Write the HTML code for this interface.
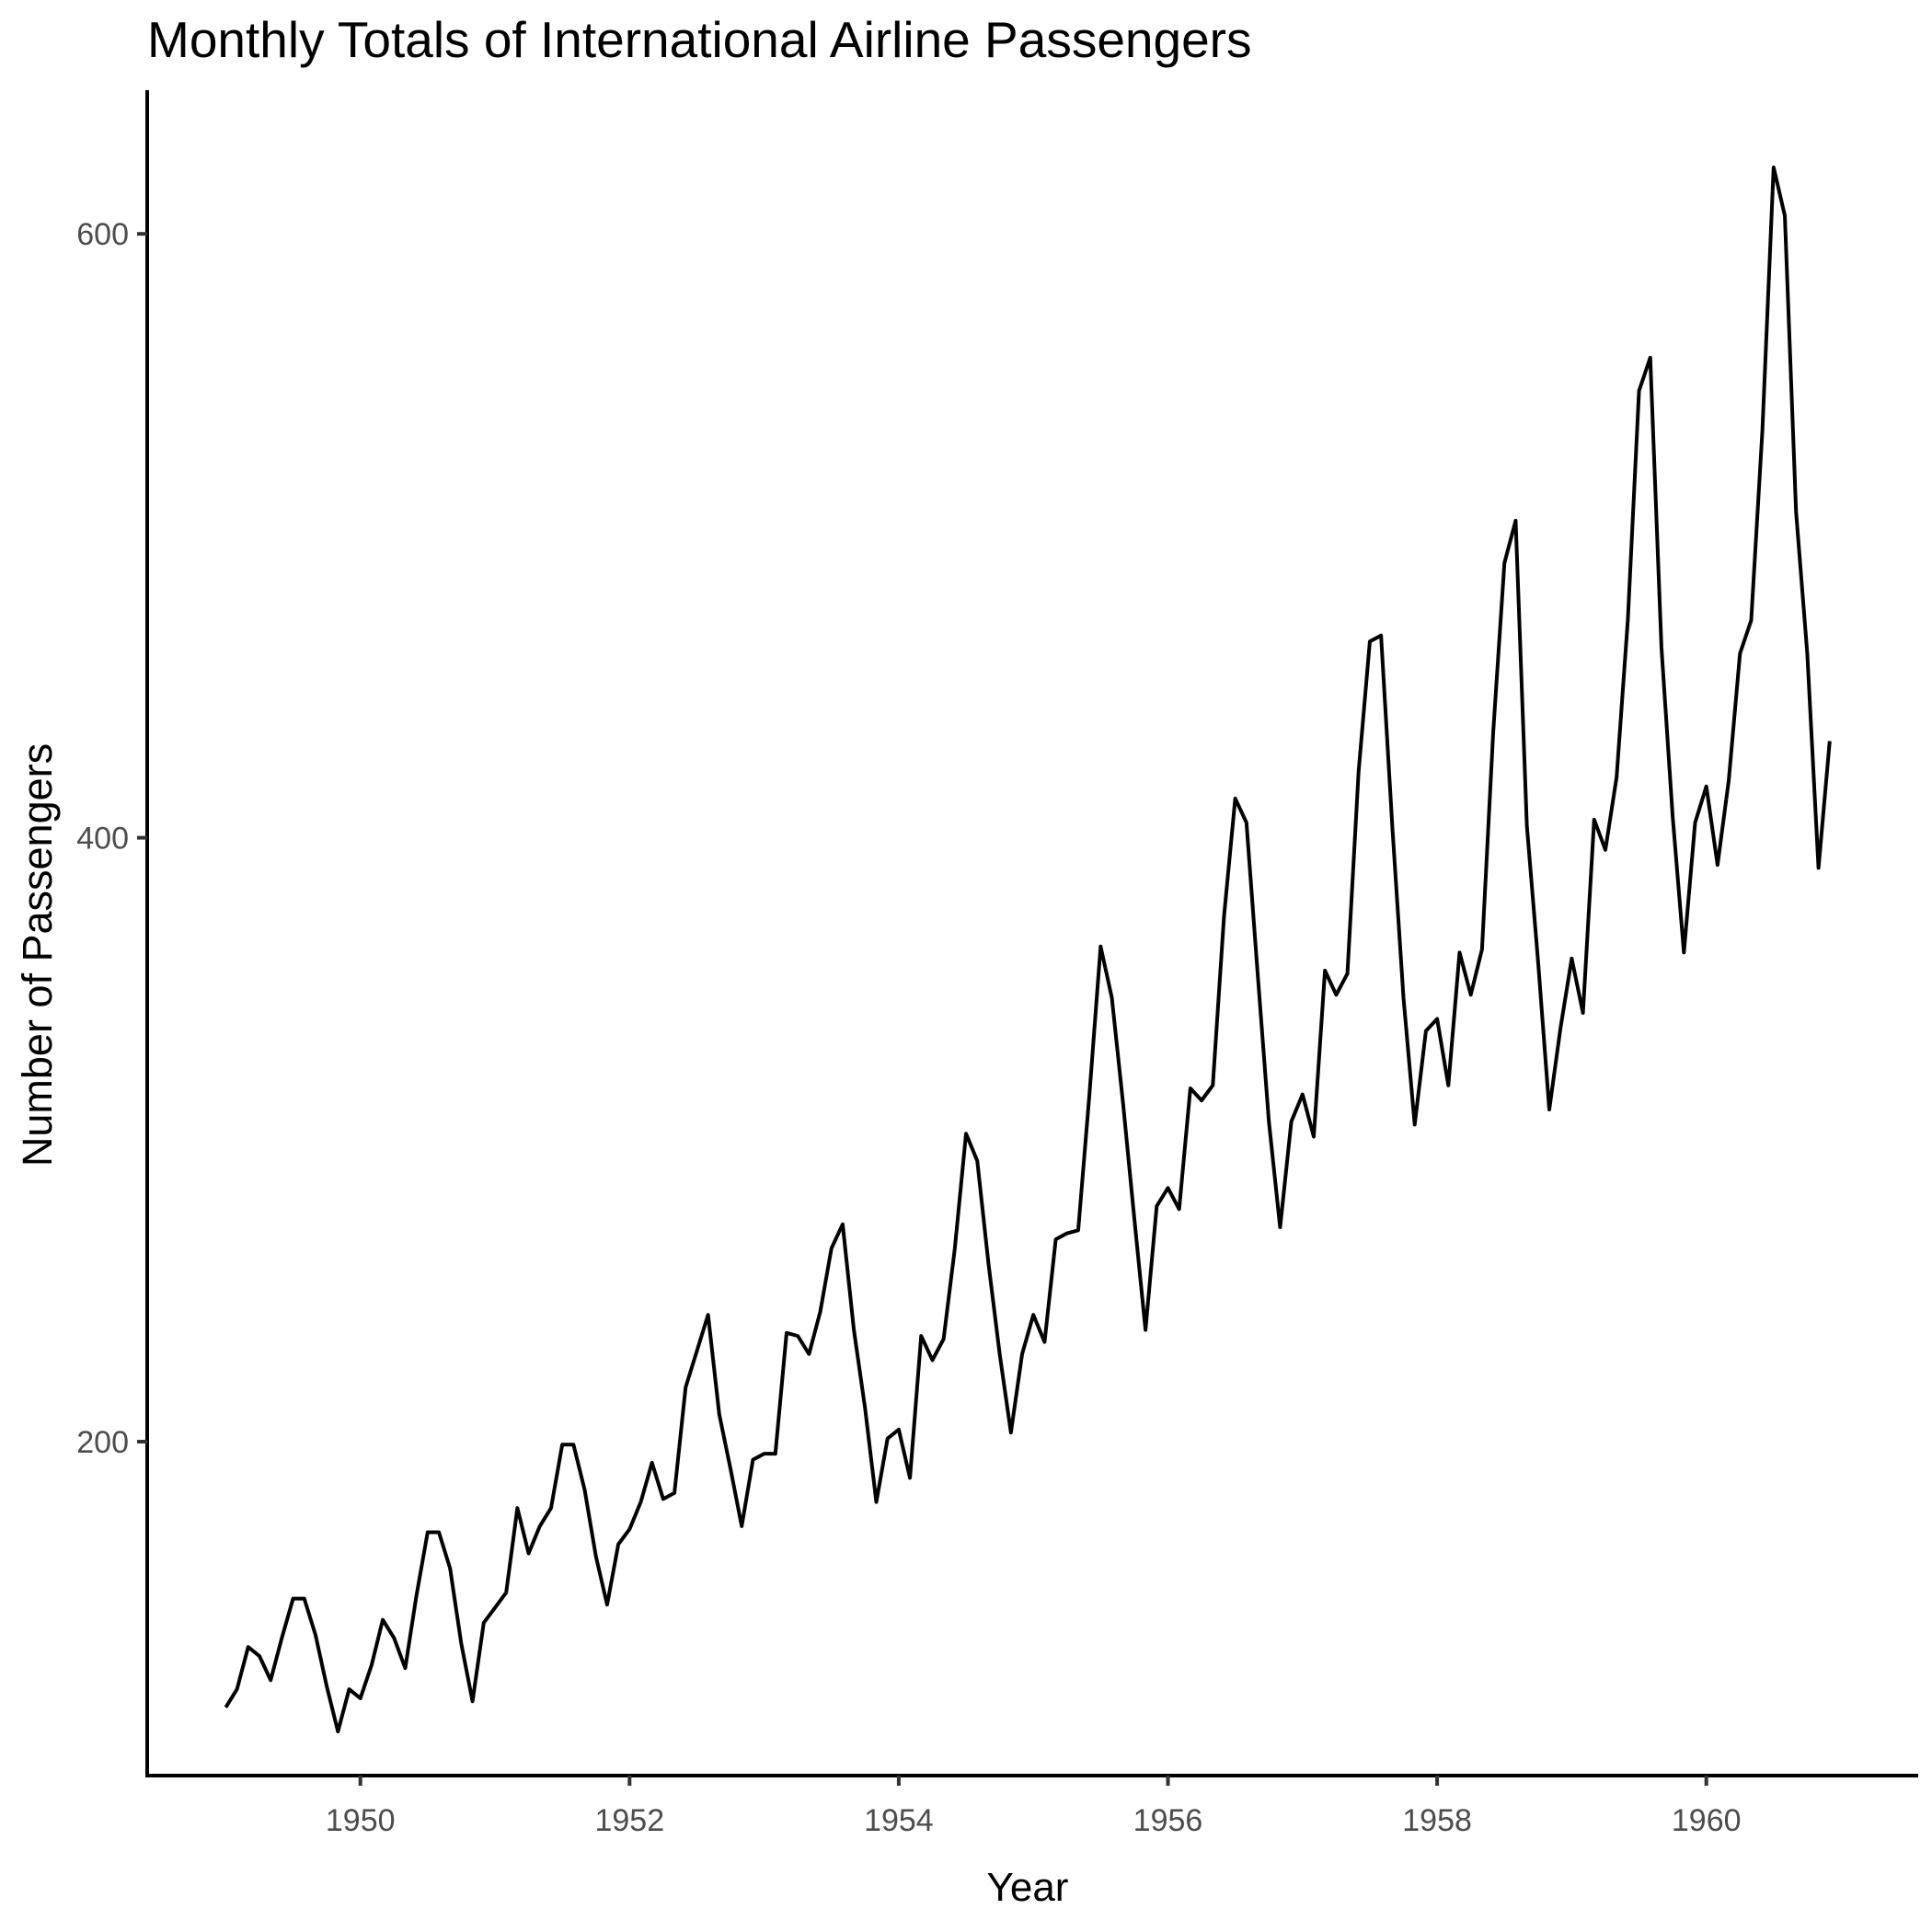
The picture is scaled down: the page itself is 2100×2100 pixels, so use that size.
<!DOCTYPE html>
<html><head><meta charset="utf-8"><style>
html,body{margin:0;padding:0;background:#fff;}
svg{display:block;font-family:"Liberation Sans",Arial,sans-serif;}
</style></head><body>
<svg id="chart" width="2100" height="2100" viewBox="0 0 2100 2100" xmlns="http://www.w3.org/2000/svg">
<rect width="2100" height="2100" fill="#fff"/>
<text x="160" y="62" font-size="55" fill="#000">Monthly Totals of International Airline Passengers</text>
<g id="plot"></g>
<text x="1117" y="2066" font-size="44" text-anchor="middle" fill="#000">Year</text>
<text transform="translate(56,1038) rotate(-90)" font-size="45" text-anchor="middle" fill="#000">Number of Passengers</text>
</svg>
<script>
const startYear = 1949;
const passengers = [
112,118,132,129,121,135,148,148,136,119,104,118,
115,126,141,135,125,149,170,170,158,133,114,140,
145,150,178,163,172,178,199,199,184,162,146,166,
171,180,193,181,183,218,230,242,209,191,172,194,
196,196,236,235,229,243,264,272,237,211,180,201,
204,188,235,227,234,264,302,293,259,229,203,229,
242,233,267,269,270,315,364,347,312,274,237,278,
284,277,317,313,318,374,413,405,355,306,271,306,
315,301,356,348,355,422,465,467,404,347,305,336,
340,318,362,348,363,435,491,505,404,359,310,337,
360,342,406,396,420,472,548,559,463,407,362,405,
417,391,419,461,472,535,622,606,508,461,390,432];
const xTicks = [1950,1952,1954,1956,1958,1960];
const yTicks = [200,400,600];

const NS = "http://www.w3.org/2000/svg";
const plot = document.getElementById('plot');
const xScale = t => 391.7 + (t - 1950) * 146.3;
const yScale = v => 1567 - (v - 200) * 3.282;
const axisLeft = 160, axisBottom = 1930;

function mk(tag, attrs){ const e = document.createElementNS(NS, tag); for (const k in attrs) e.setAttribute(k, attrs[k]); plot.appendChild(e); return e; }

let d = passengers.map((v,i) => (i ? 'L' : 'M') + xScale(startYear + i/12).toFixed(2) + ',' + yScale(v).toFixed(2)).join(' ');
const line = mk('path', {d: d, fill: 'none', stroke: '#000', 'stroke-width': 4, 'stroke-linejoin': 'round'});



const ya = mk('line', {x1: axisLeft, y1: 98, x2: axisLeft, y2: axisBottom + 2, stroke: '#000', 'stroke-width': 4});


const xa = mk('line', {x1: axisLeft - 2, y1: axisBottom, x2: 2085, y2: axisBottom, stroke: '#000', 'stroke-width': 4});



xTicks.forEach(t => {
  const x = xScale(t);
  const tk = mk('line', {x1: x, y1: axisBottom, x2: x, y2: axisBottom + 11, stroke: '#333', 'stroke-width': 4});
  
  
  const lb = mk('text', {x: x, y: 1990, 'font-size': 34, 'text-anchor': 'middle', fill: '#4d4d4d'});
  lb.textContent = t;
  
  
});
yTicks.forEach(v => {
  const y = yScale(v);
  const tk = mk('line', {x1: axisLeft - 11, y1: y, x2: axisLeft, y2: y, stroke: '#333', 'stroke-width': 4});
  
  
  const lb = mk('text', {x: axisLeft - 20, y: y + 12, 'font-size': 34, 'text-anchor': 'end', fill: '#4d4d4d'});
  lb.textContent = v;
  
  
});
</script>
</body></html>
